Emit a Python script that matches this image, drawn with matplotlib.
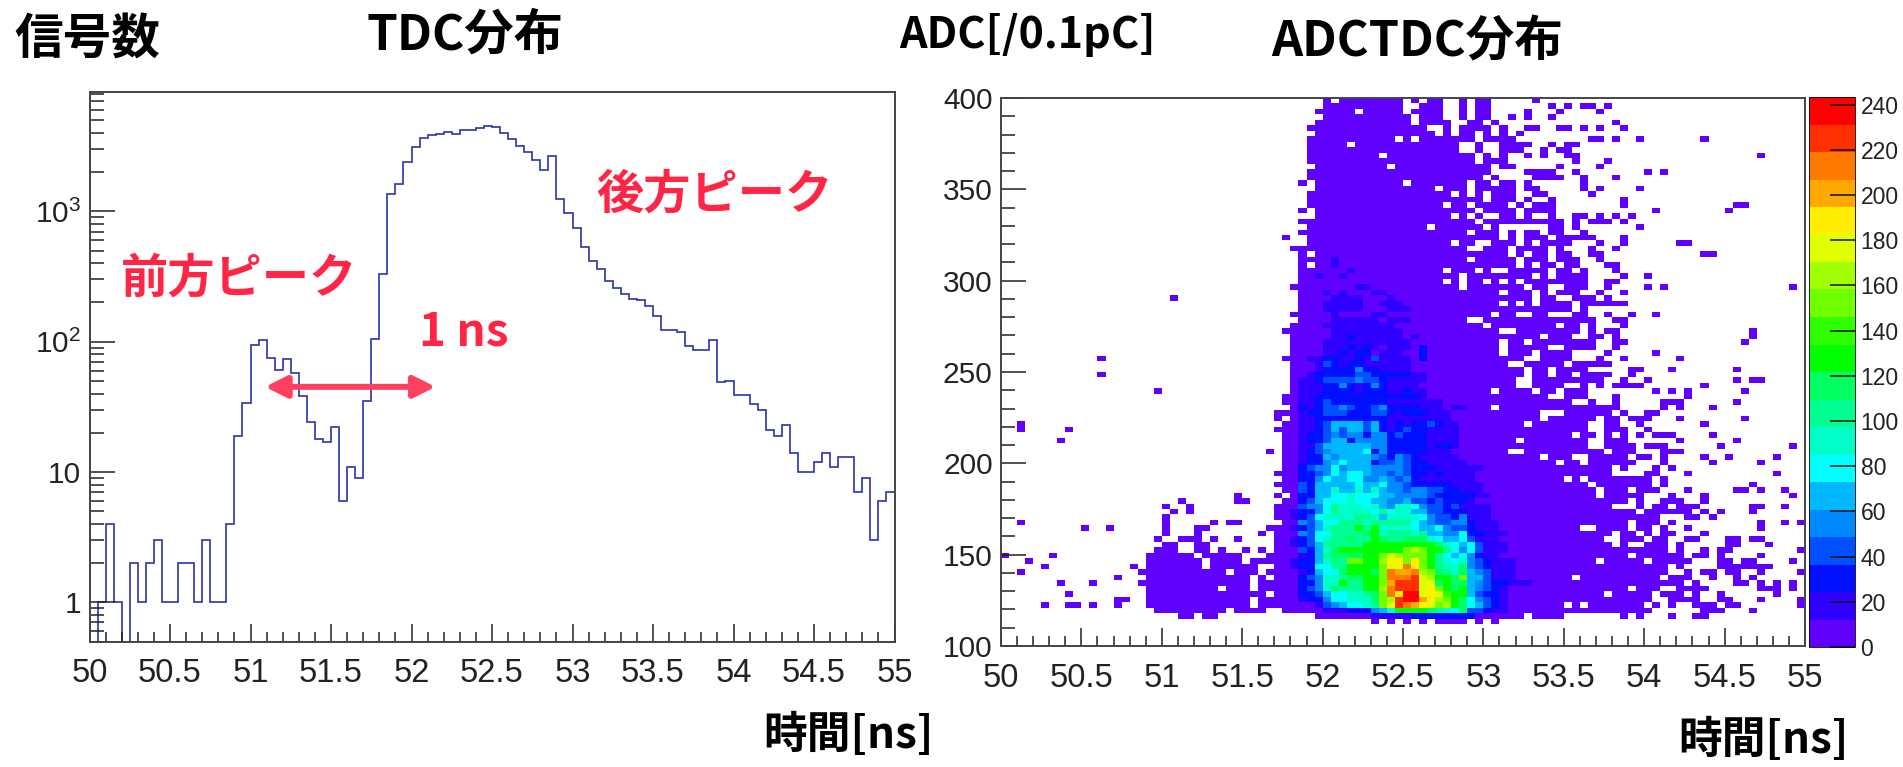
import numpy as np
import matplotlib
matplotlib.use('Agg')
import matplotlib.pyplot as plt
from matplotlib.colors import ListedColormap, BoundaryNorm
from matplotlib.ticker import MultipleLocator, FixedLocator, FixedFormatter, NullFormatter

plt.rcParams['font.family'] = ['Liberation Sans', 'DejaVu Sans']
CJK = ['Noto Sans CJK JP', 'DejaVu Sans']

W, H = 1903, 767

# TDC histogram, 100 bins between 50 and 55 ns
tdc_counts = [0, 1, 4, 1, 0, 2, 1, 2, 3, 1,
              1, 2, 2, 1, 3, 1, 1, 4, 19, 34,
              95, 103, 75, 61, 73, 57, 38, 24, 18, 17,
              22, 6, 11, 9, 35, 105, 330, 1358, 1620, 2387,
              3130, 3660, 3840, 3945, 4030, 3945, 4190, 4200, 4365, 4487,
              4426, 4025, 3610, 3194, 2845, 2485, 2083, 2642, 1251, 967,
              747, 528, 416, 359, 292, 257, 232, 214, 210, 188,
              157, 123, 123, 119, 92, 87, 87, 103, 49, 50,
              39, 39, 33, 30, 21, 19, 23, 14, 10, 10,
              12, 14, 11, 13, 13, 7, 9, 3, 6, 7]
time_edges = np.linspace(50, 55, 101)
adc_edges = np.linspace(100, 400, 101)

# occupied cells of the ADC/TDC map, one string of bin ranges per ADC bin,
# first string is ADC bin 99 (top), last is bin 4
adc_occupied = [
    "40,42-49,51,53-54,57,59-60,66",
    "40-49,52-54,57,59-60,68,70,72-73,75",
    "39-43,45-49,51-54,57,59-60,65,69,74",
    "40-50,52-54,57,59-60,63,65,68",
    "39-50,52-55,58-59,61,76",
    "38-52,55,57-60,62,65-66,69-70,72,74,77",
    "39-53,55,57-58,60,62,64",
    "38-48,50,52-58,60-63,73-74,76,79,87",
    "38-42,44-56,59,62-65,68,70-71",
    "38-56,59,62-64,67,69-70",
    "38-46,48-58,60,62,65,67,70-71,94",
    "38-58,60-62,71,75",
    "39-47,49-60,62-63,69,74",
    "38-60,65-68,71,80,82",
    "38-59,61,66-69,72,76",
    "37,39-49,51-57,59-60,62-63,65,72",
    "39-53,55-57,59-63,65-66,72,74,79",
    "38-55,57,59,61-63,66-67,73",
    "38-59,61-63,65,68,77",
    "38-54,56-57,59-62,64,66-68,77,91-92",
    "37,39-58,60-63,65-68,81,90",
    "39-55,57,59,62-63,65,68,71-72,74,76,78",
    "37-58,60-69,71,73-75,77",
    "38-52,54-59,61,68-69,71,79",
    "37-57,59-61,63,65-66,68-69,72",
    "35,38-61,63,65-67,69-73,77",
    "38-55,57-58,61-63,65,67-70,74,77,84-85",
    "36-57,60-62,64-67,69,73,76",
    "37,39-62,64,66-67,69-70,73-74,87-88",
    "37-57,59-63,65-67,69-71,74",
    "37,39-63,65,67-68,70-71,75-76",
    "37-54,56-58,60,63-67,69-70,72,76",
    "37-56,58-65,67,69-72,77,80",
    "37-54,56,58-59,61,63,65-72,75-76",
    "36-56,58-64,66-67,70-72,75,80,82,98",
    "37-61,63-65,67,69-71,74,77",
    "21,37-65,67-68,71-73,75",
    "37-61,63,65,67-70,72-77",
    "37-70,72",
    "36-60,62-63,66-67,71-72,75,78,81",
    "37-57,60-73,76-77",
    "36-59,61-68,70-71,73,77",
    "35-61,64-71,73,75-76,93",
    "36-66,68-70,73-74,76,93",
    "36-61,63-64,66-73,76-77,92",
    "36-61,63-67,70-73,76",
    "36-61,63-65,67-70,75,81",
    "35-64,67-70,74,77,84,12",
    "36-62,65-69,71-75",
    "36-64,66-67,69-72,78-79,83,91",
    "12,36-64,66-67,69-70,72-75,78",
    "36-63,66-71,72-74,77,80,91,93-94",
    "36-63,66-69,72,74,76-79,87",
    "19,36-60,62-65,67-68,70-72,81,83,85,92",
    "35-67,70-72,76,85",
    "35-70,73,76,82-84,91",
    "36-60,62-76,82,84,88",
    "34-66,70-75,77,80-81",
    "34,36-66,68-73,75-76,78-80,84,92",
    "2,35-64,66-72,75-76,79,87",
    "2,8,34-72,75-77,80",
    "35-70,72-73,75,77,79,81-83,88",
    "7,35-63,65-72,75-77,84,91",
    "35-72,75-78,80-82,89,98",
    "33,35-62,65-74,76-78,82-84",
    "35-66,68-70,73-77,79-80,82,87,90,96",
    "35-68,70-71,73-78,82,88,94",
    "35-75,77,81,83",
    "34-75,80-81,85,96",
    "35-69,71,73-80,82",
    "34-72,74-80,82,93",
    "35-73,75-77,79-81,85,91-92,94,97",
    "29,34,36-73,75-79,83,87,98",
    "22,29-30,35-77,79,82-84,87",
    "20,23,34-75,79,81-82,84-86,93-94,97",
    "21,23,34-78,80-85,87,89,93",
    "20,34-81,85-86,88",
    "2,20,26,28-29,35-77,79-81,83,94,97,99",
    "10,13,20,24-25,33-71,74-77,79-80,82,85,94",
    "20,24,32,34-75,77-78,80,82-83,87",
    "19,22-24,26,29,34-74,77-79,81-82,85-86,90-91,93-94",
    "20-21,24-25,34-75,77,80-82,84,90-91,95",
    "19-21,24-25,27,30,32,34-82,84,87,89-90,99",
    "0,6,18-23,25-29,33-77,79-84,86-87,89,94",
    "3,18-24,26-29,31-73,75-79,81-85,89-90,92-93,98",
    "5,16,18-24,26-31,34-82,84,89-95",
    "2,17-27,29-31,33-82,85,87-88,90-91,94,99",
    "14,18-30,32,34-70,72-81,83-85,88,91,93",
    "7,11,17-30,32-84,86,91-92,94,96,98",
    "18-26,28-30,32-77,79-81,84-87,94-96,98",
    "8,18-32,34-74,76-80,82-84,86,89,96",
    "14-15,18-30,32-80,83-86,89-90,94,99",
    "5,8-9,11,14,18-30,32-69,71,73-79,81,83,86-88,90-91,99",
    "19-27,29-32,35-80,87-89,93",
    "22-23,25-26,39-64,66-69,77,79,83,86-87",
    "46,48,50,52,54-57,59,61",
]

# colour band of the dense core, one char per TDC bin 36..65 (0-9, a-j = band),
# first string is ADC bin 5
core_bands = [
    "000000000011111222222220000000",
    "000011122245 7aaaa987 69 33211".replace(' ', '') + "000",
    "00013456678ceihgfecda965321000",
    "01224667779cdijjgfdca964321000",
    "02235667789chfjjefebaa53221000",
    "023479888aadhiiiefca9a54321000",
    "022477a88aacgiiiee9a9954322111",
    "023477899aachhhiedaa9c55311100",
    "0125669aaa9chgghdc987954311100",
    "1226688aaaacfehfca877943211100",
    "1225788ccaadefcfca876743211100",
    "012589999aacedccca865642110000",
    "032579aaaaaaaacdcaa86463111000",
    "123588888aaaaaaaaa976563111000",
    "1236788988a9889997655631110000",
    "0436688889a7888785544622111000",
    "12357888a8a7777655643321110000",
    "043566888788888654334421110000",
    "123677778875777764332411100000",
    "122468777768677553322211100000",
    "034468777675477643323111100000",
    "023566676655445332322210000000",
    "022556676665544443222221100000",
    "032557557575443443322111000000",
    "032555556556443222221111000000",
    "022465566445434211111110000000",
    "022346566544343221211110000000",
    "023446455544443222111111000000",
    "012245655523343221111100000000",
    "012254555543243211111000000000",
    "012345555624222221110000000000",
    "011355555544222221221000000000",
    "012235524444222221111000000000",
    "012234344244232221111000000000",
    "011235355352123221111000000000",
    "011235555352121223211000000000",
    "011222222222111111110000000000",
    "012233322233212221110000000000",
    "021233432234222211101100000000",
    "011232222222111111100000000000",
    "011222222222222210000000000000",
    "011122221222112110000000000000",
    "011122421242111100000000000000",
    "011233334332111110000000000000",
    "001222223322222110000000000000",
    "000122224221111000000000000000",
    "000132122111111000000000000000",
    "001122112131111020000000000000",
    "000011212201110020000000000000",
    "000011121210111020000000000000",
    "000011111111111000000000000000",
    "000001121111110100000000000000",
    "000001111111110000000000000000",
    "000011111111100000000000000000",
    "000001111110111000000000000000",
    "000001000011000000000000000000",
    "000011111000111000000000000000",
    "000011111001110000000000000000",
    "000001111000100000000000000000",
    "000010100011000000000000000000",
    "000000001100000000000000000000",
    "000000000000000000000000000000",
    "000100100000000000000000000000",
    "000000010000000000000000000000",
    "000001000000000000000000000000",
    "000001000000000000000000000000",
]

band_colors = ['#6000ff', '#3000ff', '#0010ff', '#0050ff', '#0088ff',
               '#00b8ff', '#00ffff', '#00ffc8', '#00ff90', '#00ff60',
               '#00ff00', '#30ff00', '#70ff00', '#a0ff00', '#e0ff00',
               '#ffee00', '#ffa800', '#ff7800', '#ff3000', '#ff0000']
z_max = 243.4
band_edges = np.linspace(0, z_max, 21)
band_mid = 0.5 * (band_edges[:-1] + band_edges[1:])


def px_axes(x0, y0, x1, y1):
    return fig.add_axes([x0 / W, 1 - y1 / H, (x1 - x0) / W, (y1 - y0) / H])


def label(x, y, s, size, color='black'):
    fig.text(x / W, 1 - y / H, s, fontsize=size, fontweight='bold', color=color,
             family=CJK, ha='center', va='center')


def style_axes(ax):
    for sp in ax.spines.values():
        sp.set_linewidth(1.4)
        sp.set_color('#444444')
    ax.xaxis.set_major_locator(FixedLocator(np.arange(50, 55.01, 0.5)))
    ax.xaxis.set_major_formatter(FixedFormatter(['50', '50.5', '51', '51.5', '52', '52.5',
                                                 '53', '53.5', '54', '54.5', '55']))
    ax.xaxis.set_minor_locator(MultipleLocator(0.1))
    ax.tick_params(axis='x', which='major', direction='in', length=13, width=1.1, pad=12,
                   labelsize=23.5, color='#222222', labelcolor='#222222')
    ax.tick_params(axis='x', which='minor', direction='in', length=7, width=1.1, color='#222222')
    ax.tick_params(axis='y', which='major', direction='in', length=18, width=1.1, pad=6,
                   labelsize=21.5, color='#222222', labelcolor='#222222')
    ax.tick_params(axis='y', which='minor', direction='in', length=10, width=1.1, color='#222222')


fig = plt.figure(figsize=(W / 100, H / 100), dpi=100)

# left: TDC distribution
ax1 = px_axes(89.5, 92, 894.5, 641.5)
ax1.stairs(np.maximum(tdc_counts, 0.1), time_edges, color='#2a35a8', linewidth=1.2, baseline=None)
ax1.set_yscale('log')
ax1.set_xlim(50, 55)
ax1.set_ylim(0.5, 8240)
style_axes(ax1)
ax1.yaxis.set_major_locator(FixedLocator([1, 10, 100, 1000]))
ax1.yaxis.set_major_formatter(FixedFormatter(['1', '10', r'$\mathregular{10^{2}}$', r'$\mathregular{10^{3}}$']))
ax1.yaxis.set_minor_locator(FixedLocator([m * d for d in (0.1, 1, 10, 100, 1000) for m in range(2, 10)]))
ax1.yaxis.set_minor_formatter(NullFormatter())

arrow_time = [51.09, 52.15]
arrow_count = 45
ax1.annotate('', xy=(arrow_time[1], arrow_count), xytext=(arrow_time[0], arrow_count),
             arrowprops=dict(arrowstyle='<|-|>,head_length=13,head_width=6.5', color='#ff4060',
                             lw=4.3, shrinkA=0, shrinkB=0, mutation_scale=1))

# right: ADC vs TDC map
grid = np.full((100, 100), np.nan)
for k, row in enumerate(adc_occupied):
    for part in row.split(','):
        a, _, b = part.partition('-')
        grid[99 - k, int(a):int(b or a) + 1] = band_mid[0]
for k, row in enumerate(core_bands):
    for j, ch in enumerate(row[:30]):
        cell = (5 + k, 36 + j)
        if not np.isnan(grid[cell]):
            grid[cell] = band_mid[int(ch, 20)]

ax2 = px_axes(1001, 98, 1805, 646)
cmap = ListedColormap(band_colors)
norm = BoundaryNorm(band_edges, cmap.N)
mesh = ax2.pcolormesh(time_edges, adc_edges, np.ma.masked_invalid(grid), cmap=cmap, norm=norm,
                      antialiased=False, linewidth=0)
ax2.set_xlim(50, 55)
ax2.set_ylim(100, 400)
style_axes(ax2)
ax2.yaxis.set_major_locator(MultipleLocator(50))
ax2.yaxis.set_minor_locator(MultipleLocator(10))

cax = px_axes(1809, 97, 1855, 647)
cbar = fig.colorbar(mesh, cax=cax, ticks=np.arange(0, 241, 20), spacing='proportional')
cbar.outline.set_linewidth(0.6)
cbar.ax.tick_params(which='major', direction='in', length=18, width=1.1, pad=4,
                    labelsize=16.5, color='#111111', labelcolor='#222222')
cbar.ax.minorticks_off()

# slide annotations
label(87, 40, '信号数', 35)
label(465, 35, 'TDC分布', 35.5)
label(1027, 35, 'ADC[/0.1pC]', 31)
label(1417, 42, 'ADCTDC分布', 35)
label(848, 735, '時間[ns]', 31.5)
label(1763, 740, '時間[ns]', 31.5)
label(239, 279, '前方ピーク', 34, '#ff2545')
label(714, 195, '後方ピーク', 34, '#ff2545')
label(464, 332, '1 ns', 33, '#ff2545')

fig.savefig('out.png', dpi=100)
